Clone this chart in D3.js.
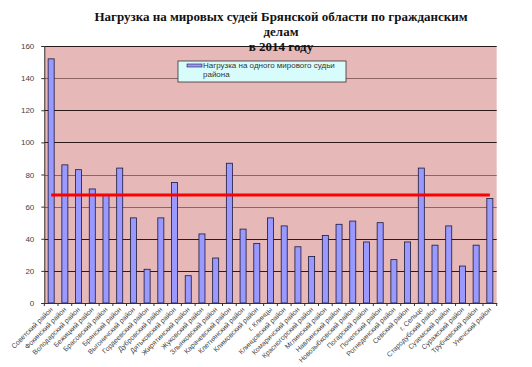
<!DOCTYPE html>
<html>
<head>
<meta charset="utf-8">
<script src="https://cdn.jsdelivr.net/npm/d3@7"></script>
<style>
  body { margin: 0; background: #fff; }
  text { font-family: "Liberation Sans", Arial, sans-serif; }
</style>
</head>
<body>
<script>
const w = 532;
const h = 367;

const districts = [
  "Советский район", "Фокинский район", "Володарский район", "Бежицкий район",
  "Брасовский район", "Брянский район", "Выгоничский район", "Гордеевский район",
  "Дубровский район", "Дятьковский район", "Жирятинский район", "Жуковский район",
  "Злынковский район", "Карачевский район", "Клетнянский район", "Климовский район",
  "г. Клинцы", "Клинцовский район", "Комаричский район", "Красногорский район",
  "Мглинский район", "Навлинский район", "Новозыбковский район", "Погарский район",
  "Почепский район", "Рогнединский район", "Севский район", "г. Сельцо",
  "Стародубский район", "Суземский район", "Суражский район", "Трубчевский район",
  "Унечский район"
];

const load = [
  152, 86, 83, 71, 67, 84, 53, 21, 53, 75, 17, 43, 28, 87, 46, 37,
  53, 48, 35, 29, 42, 49, 51, 38, 50, 27, 38, 84, 36, 48, 23, 36, 65
];

const average = districts.map(() => 67.3);

const yTicks = [0, 20, 40, 60, 80, 100, 120, 140, 160];
const darkGrid = [20, 40, 100, 120, 160];

const titleLines = [
  "Нагрузка на мировых судей Брянской области по гражданским",
  "делам",
  "в 2014 году"
];
const legendLines = ["Нагрузка на одного мирового судьи", "района"];

const plotLeft = 44.3, plotRight = 496.7, plotTop = 46, plotBottom = 303;

const svg = d3.select("body")
  .append("svg")
  .attr("width", w)
  .attr("height", h);

const xScale = d3.scaleBand()
  .domain(districts)
  .range([plotLeft, plotRight])
  .paddingInner(0.56)
  .paddingOuter(0.28);

const yScale = d3.scaleLinear()
  .domain([0, 160])
  .range([plotBottom, plotTop]);

// PLOT AREA
svg.append("rect")
  .attr("x", plotLeft)
  .attr("y", plotTop)
  .attr("width", plotRight - plotLeft)
  .attr("height", plotBottom - plotTop)
  .attr("fill", "#E6B8B8");

// GRID
svg.append("g")
  .selectAll("line")
  .data(yTicks.filter(d => d > 0))
  .join("line")
  .attr("x1", plotLeft)
  .attr("x2", plotRight)
  .attr("y1", d => Math.round(yScale(d)) + 0.5)
  .attr("y2", d => Math.round(yScale(d)) + 0.5)
  .attr("stroke", d => darkGrid.includes(d) ? "#2a1a1a" : "#8c6464")
  .attr("stroke-width", 1);

// BARS
svg.append("g")
  .selectAll("rect")
  .data(districts)
  .join("rect")
  .attr("x", d => xScale(d))
  .attr("y", (d, i) => yScale(load[i]))
  .attr("width", xScale.bandwidth())
  .attr("height", (d, i) => plotBottom - yScale(load[i]))
  .attr("fill", "#9999FF")
  .attr("stroke", "#1a1a3a")
  .attr("stroke-width", 0.8);

// AVERAGE LINE
const avgLine = d3.line()
  .x((d, i) => xScale(districts[i]) + xScale.bandwidth() / 2)
  .y(d => yScale(d));

svg.append("path")
  .datum(average)
  .attr("d", avgLine)
  .attr("fill", "none")
  .attr("stroke", "#FF0000")
  .attr("stroke-width", 3);

// AXES
const yAxis = svg.append("g")
  .attr("transform", `translate(${plotLeft}, 0)`)
  .call(d3.axisLeft(yScale).tickValues(yTicks).tickSize(3).tickPadding(7));
yAxis.select(".domain").attr("stroke", "#333");
yAxis.selectAll(".tick line").attr("stroke", "#333");
yAxis.selectAll("text")
  .attr("fill", "#444")
  .style("font-size", "8px");

const xAxis = svg.append("g")
  .attr("transform", `translate(0, ${plotBottom})`)
  .call(d3.axisBottom(xScale).tickSize(0).tickPadding(0));
xAxis.select(".domain").attr("stroke", "#333");
xAxis.selectAll(".tick text")
  .attr("text-anchor", "end")
  .attr("dy", 0)
  .attr("y", 0)
  .attr("transform", "translate(2, 7) rotate(-45)")
  .attr("fill", "#444")
  .style("font-size", "7px");

// category boundary ticks
svg.append("g")
  .selectAll("line")
  .data(d3.range(districts.length + 1))
  .join("line")
  .attr("x1", i => plotLeft + i * xScale.step())
  .attr("x2", i => plotLeft + i * xScale.step())
  .attr("y1", plotBottom)
  .attr("y2", plotBottom + 3)
  .attr("stroke", "#333");

// LEGEND
const legend = svg.append("g").attr("transform", "translate(178, 61)");
legend.append("rect")
  .attr("width", 168)
  .attr("height", 21)
  .attr("fill", "#D8FCFC")
  .attr("stroke", "#333")
  .attr("stroke-width", 0.8);
legend.append("rect")
  .attr("x", 9)
  .attr("y", 3)
  .attr("width", 15)
  .attr("height", 3)
  .attr("fill", "#9999FF")
  .attr("stroke", "#1a1a3a")
  .attr("stroke-width", 0.6);
legend.selectAll("text.leg")
  .data(legendLines)
  .join("text")
  .attr("class", "leg")
  .attr("x", 25)
  .attr("y", (d, i) => 7 + i * 9)
  .attr("fill", "#333")
  .style("font-size", "8px")
  .text(d => d);

// TITLE
svg.selectAll("text.title")
  .data(titleLines)
  .join("text")
  .attr("class", "title")
  .attr("x", 281)
  .attr("y", (d, i) => 21 + i * 15)
  .attr("text-anchor", "middle")
  .style("font-family", "'Liberation Serif', 'Times New Roman', serif")
  .style("font-weight", "bold")
  .style("font-size", "13px")
  .attr("fill", "#111")
  .text(d => d);
</script>
</body>
</html>
